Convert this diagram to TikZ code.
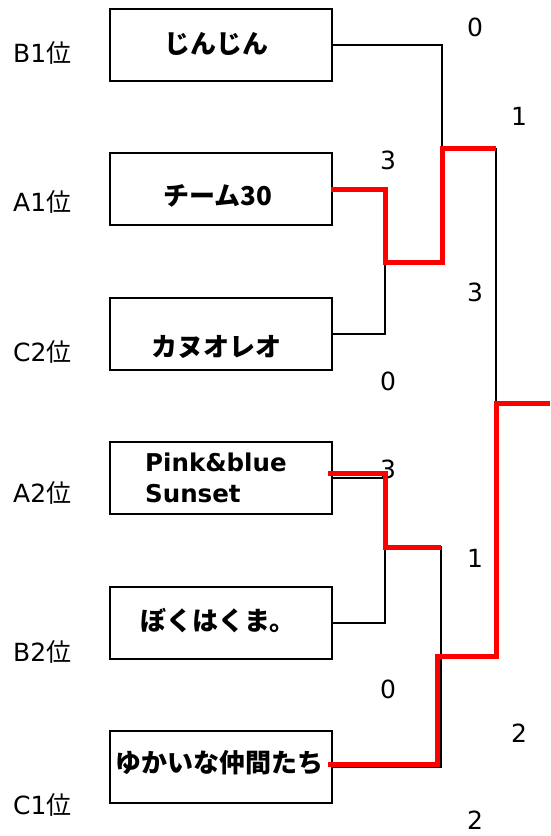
\documentclass[tikz,border=0pt]{standalone}
\usepackage{fontspec}
\setmainfont{DejaVu Sans}
\newfontfamily\jp{Noto Sans CJK JP}
\begin{document}
\begin{tikzpicture}[x=1pt, y=-1pt]
    \tikzstyle{team}=[draw, line width=2pt, minimum width=222pt, minimum height=72pt, anchor=north west, inner sep=0pt]
    \tikzstyle{rank}=[anchor=base west, inner sep=0pt, font=\fontsize{25}{31}\selectfont]
    \tikzstyle{score}=[anchor=base, inner sep=0pt, font=\fontsize{25}{31}\selectfont]
    \tikzstyle{teamname}=[inner sep=0pt, font=\fontsize{26}{31}\selectfont\bfseries\jp]
    \tikzstyle{thin}=[line width=1.5pt]
    \tikzstyle{win}=[line width=5pt, red]
    \useasboundingbox (0,0) rectangle (550,836);

    % draw boxes
    \foreach \ty [count=\y] in {8,152,297,441,586,730}
    \node [team] (team-\y) at (109,\ty) {};

    % draw text
    \node [teamname] (name-1) at (216,44) {じんじん};
    \node [teamname] (name-2) at (218,196) {チーム30};
    \node [teamname] (name-3) at (216,347) {カヌオレオ};
    \node [teamname, font=\fontsize{24.5}{31}\selectfont\bfseries, align=left, anchor=west] (name-4) at (145,478) {Pink\&blue\\Sunset};
    \node [teamname] (name-5) at (218,621) {ぼくはくま。};
    \node [teamname] (name-6) at (219,763) {ゆかいな仲間たち};

    \foreach \l/\b [count=\y] in {B1/62, A1/211.5, C2/361.5, A2/502.5, B2/661.5, C1/814.5}
    \node [rank] (rank-\y) at (13,\b) {\l{\jp 位}};

    \foreach \s/\x/\b [count=\k] in {0/475/36.5, 1/519/125.5, 3/388/169.5, 3/475/301.5, 0/388/390.5, 3/388/478.5, 1/475/567.5, 0/388/698.5, 2/519/742.5, 2/475/829.5}
    \node [score] (score-\k) at (\x,\b) {\s};

    % draw lines
    \coordinate (semi1) at (385,262);
    \coordinate (semi2) at (385,547);
    \coordinate (upper) at (442,148);
    \coordinate (lower) at (441,656);
    \coordinate (final) at (496,403);
    \coordinate (champion) at (550,403);

    \draw [thin] (team-1.east) -| (upper);
    \draw [thin] (team-3.east) -| (semi1);
    \draw [thin] (upper -| final) -- (final);
    \draw [thin] (team-4.east) -| (semi2);
    \draw [thin] (team-5.east) -| (semi2);
    \draw [thin] (semi2) -| (team-6.east -| lower) -- (team-6.east);

    \draw [win] ([xshift=-2pt]team-2.east) -| (semi1) -| (upper) -- (upper -| final);
    \draw [win] ([xshift=-5pt, yshift=5pt]team-4.east) -| (semi2) -- (semi2 -| lower);
    \draw [win] ([xshift=-5pt, yshift=3pt]team-6.east) -| ([xshift=-4pt]lower) -| (final) -- (champion);
\end{tikzpicture}
\end{document}
